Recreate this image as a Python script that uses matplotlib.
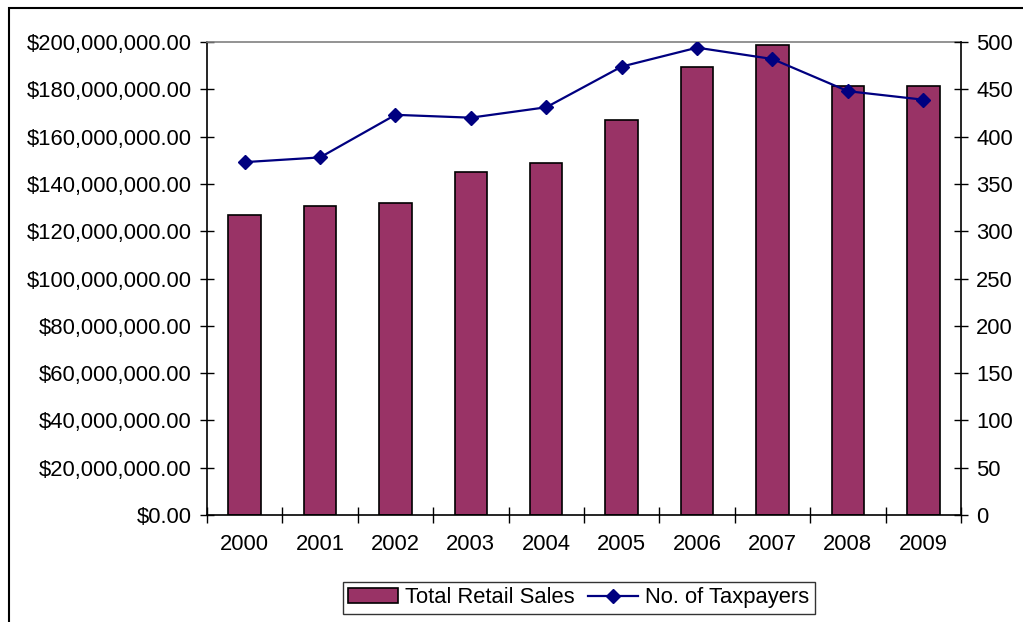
import matplotlib
matplotlib.use("Agg")
import matplotlib.pyplot as plt
from matplotlib.patches import Rectangle
from matplotlib.ticker import FuncFormatter, FixedLocator, NullFormatter
import numpy as np

years = ["2000", "2001", "2002", "2003", "2004", "2005", "2006", "2007", "2008", "2009"]
retail_sales = [126.8e6, 130.7e6, 131.9e6, 145.0e6, 148.8e6, 167.0e6, 189.4e6, 198.7e6, 181.4e6, 181.4e6]
taxpayers = [373, 378, 423, 420, 431, 474, 494, 482, 448, 439]

BAR = "#993366"
LINE = "#000080"

plt.rcParams.update({"font.family": ["Liberation Sans", "DejaVu Sans"], "font.size": 15.8})

fig = plt.figure(figsize=(10.23, 6.22), dpi=100)
fig.patch.set_facecolor("white")
ax = fig.add_axes([0.2023, 0.172, 0.7371, 0.7605])
x = np.arange(len(years))

bars = ax.bar(x, retail_sales, width=0.43, color=BAR, edgecolor="black", linewidth=1.2, zorder=2,
              label="Total Retail Sales")
ax.set_xlim(-0.5, len(years) - 0.5)
ax.set_ylim(0, 200e6)
ax.set_yticks(np.arange(0, 200e6 + 1, 20e6))
ax.yaxis.set_major_formatter(FuncFormatter(lambda v, _: f"${v:,.2f}"))
ax.set_xticks(x)
ax.set_xticklabels(years)
ax.tick_params(axis="x", which="major", length=0, pad=14)
ax.xaxis.set_minor_locator(FixedLocator(np.arange(-0.5, len(years), 1.0)))
ax.xaxis.set_minor_formatter(NullFormatter())
ax.tick_params(axis="x", which="minor", length=12, direction="inout", width=1)
ax.tick_params(axis="y", length=10, direction="inout", width=1, pad=6)
for s in ("left", "bottom"):
    ax.spines[s].set_color("black")
    ax.spines[s].set_linewidth(1.2)
ax.spines["top"].set_color("#808080")
ax.spines["top"].set_linewidth(1.2)
ax.spines["right"].set_visible(False)

ax2 = ax.twinx()
line, = ax2.plot(x, taxpayers, color=LINE, marker="D", markersize=7, linewidth=1.6,
                 label="No. of Taxpayers", zorder=3)
ax2.set_ylim(0, 500)
ax2.set_yticks(np.arange(0, 501, 50))
ax2.tick_params(axis="y", length=10, direction="inout", width=1, pad=6)
ax2.spines["right"].set_color("black")
ax2.spines["right"].set_linewidth(1.2)
for s in ("top", "left", "bottom"):
    ax2.spines[s].set_visible(False)

leg = fig.legend([bars, line], ["Total Retail Sales", "No. of Taxpayers"], loc="center",
                 bbox_to_anchor=(0.5655, 0.0386), ncol=2, frameon=True, fancybox=False,
                 edgecolor="black", handlelength=2.3, handletextpad=0.3, columnspacing=0.6,
                 borderpad=0.25)
leg.get_frame().set_linewidth(1.0)

# outer chart border
fig.patches.append(Rectangle((0.0088, -0.05), 1.1, 1.037, transform=fig.transFigure,
                             fill=False, edgecolor="black", linewidth=1.5, clip_on=False))

fig.savefig("out.png", facecolor="white")
